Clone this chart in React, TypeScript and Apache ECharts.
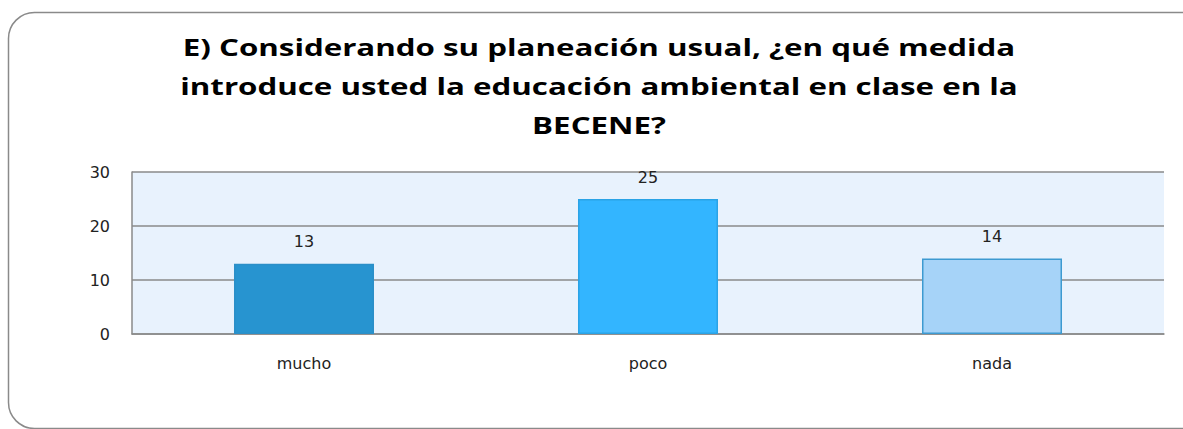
import React, { useEffect, useRef } from "react";
import * as echarts from "echarts";

const categories = ["mucho", "poco", "nada"];
const values = [13, 25, 14];
const barColors = ["#2794D0", "#33B5FF", "#A6D3F8"];
const barBorders = ["#2B8FC8", "#2AA3E6", "#3D9AD1"];
const titleLines = [
  "E) Considerando su planeación usual, ¿en qué medida",
  "introduce usted la educación ambiental en clase en la",
  "BECENE?",
];

export default function App() {
  const ref = useRef<HTMLDivElement>(null);
  useEffect(() => {
    const chart = echarts.init(ref.current!, null, { renderer: "svg" });
    chart.setOption({
      animation: false,
      backgroundColor: "#ffffff",
      graphic: [
        {
          type: "rect",
          shape: { x: 8.5, y: 12.5, width: 1200, height: 416, r: 26 },
          style: { fill: "none", stroke: "#8a8a8a", lineWidth: 1.5 },
          z: 0,
        },
        {
          type: "text",
          x: 599,
          y: 28,
          scaleX: 1.36,
          style: {
            text: titleLines.join("\n"),
            align: "center",
            verticalAlign: "top",
            font: "bold 23px 'Open Sans'",
            lineHeight: 39,
            fill: "#000",
          },
        },
      ],
      grid: { left: 132, top: 172, right: 19, bottom: 95, show: true, backgroundColor: "#E8F2FD", borderWidth: 0 },
      xAxis: {
        type: "category",
        data: categories,
        axisLine: { show: true, lineStyle: { color: "#8a8a8a", width: 1.5 } },
        axisTick: { show: false },
        axisLabel: { margin: 21, fontFamily: "DejaVu Sans", fontSize: 16, color: "#222" },
      },
      yAxis: {
        type: "value",
        min: 0,
        max: 30,
        interval: 10,
        axisLine: { show: true, lineStyle: { color: "#8a8a8a", width: 1.5 } },
        axisTick: { show: false },
        axisLabel: { margin: 22, fontFamily: "DejaVu Sans", fontSize: 16, color: "#222" },
        splitLine: { show: true, lineStyle: { color: "#8a8a8a", width: 1.5 } },
      },
      series: [
        {
          type: "bar",
          barWidth: "40.7%",
          data: values.map((v, i) => ({
            value: v,
            itemStyle: { color: barColors[i], borderColor: barBorders[i], borderWidth: 1.5 },
          })),
          label: {
            show: true,
            position: "top",
            distance: 14,
            fontFamily: "DejaVu Sans",
            fontSize: 16,
            color: "#222",
          },
        },
      ],
    });
    return () => chart.dispose();
  }, []);
  return <div ref={ref} style={{ position: "absolute", left: 0, top: 0, width: 1183, height: 429 }} />;
}
